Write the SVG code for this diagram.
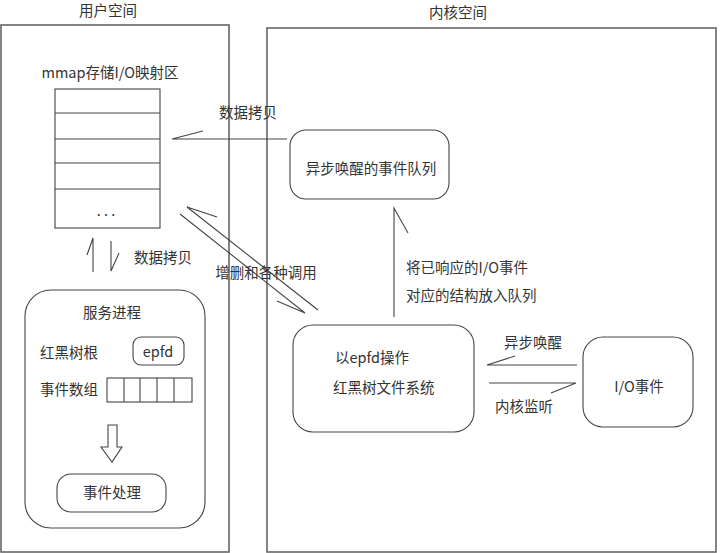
<svg xmlns="http://www.w3.org/2000/svg" width="720" height="553" viewBox="0 0 720 553">
<style>
text{font-family:"Microsoft YaHei","Noto Sans CJK SC","Noto Sans",sans-serif;font-size:14.5px;fill:#333}
.c{text-anchor:middle}
.outer{fill:none;stroke:#666;stroke-width:1.6}
.box{fill:#fff;stroke:#444;stroke-width:1.1}
.ln{fill:none;stroke:#444;stroke-width:1.1}
</style>
<rect width="720" height="553" fill="#fff"/>
<g id="user-space">
<rect class="outer" x="1" y="25" width="228" height="527"/>
<text class="c" x="108" y="16">用户空间</text>
</g>
<g id="kernel-space">
<rect class="outer" x="267" y="28" width="449" height="524"/>
<text class="c" x="458" y="18">内核空间</text>
</g>
<g id="mmap">
<text class="c" x="110" y="78">mmap存储I/O映射区</text>
<rect class="box" x="55" y="89" width="105" height="139"/>
<path class="ln" d="M55 113H160M55 139H160M55 163H160M55 189H160"/>
<text class="c" x="106" y="216">. . .</text>
</g>
<g id="queue">
<rect class="box" x="290" y="130" width="159" height="69" rx="16"/>
<text class="c" x="371" y="174">异步唤醒的事件队列</text>
</g>
<g id="epfd-fs">
<rect class="box" x="293" y="325" width="181" height="107" rx="20"/>
<text x="335" y="363">以epfd操作</text>
<text x="333" y="393">红黑树文件系统</text>
</g>
<g id="io-event">
<rect class="box" x="583" y="337" width="110" height="90" rx="20"/>
<text class="c" x="639" y="392">I/O事件</text>
</g>
<g id="service">
<rect class="box" x="25" y="290" width="180" height="238" rx="26"/>
<text class="c" x="112" y="318">服务进程</text>
<text x="40" y="358">红黑树根</text>
<rect class="box" x="133" y="337" width="51" height="28" rx="8"/>
<text class="c" x="158" y="357">epfd</text>
<text x="40" y="395">事件数组</text>
<rect class="box" x="107" y="378" width="85" height="24"/>
<path class="ln" d="M124 378V402M140 378V402M157 378V402M174 378V402"/>
<path class="ln" d="M108 425H117V447H122L112 462L101 447H108Z"/>
<rect class="box" x="57" y="474" width="109" height="38" rx="14"/>
<text class="c" x="112" y="498">事件处理</text>
</g>
<g id="connectors">
<path class="ln" d="M287 139H172L203 131"/>
<text class="c" x="248" y="118">数据拷贝</text>
<path class="ln" d="M318 310L187 207L217 217"/>
<path class="ln" d="M180 214L305 313L277 301"/>
<text class="c" x="266" y="278">增删和各种调用</text>
<path class="ln" d="M93 272V238L87 255"/>
<path class="ln" d="M111 241V271L119 253"/>
<text x="134" y="263">数据拷贝</text>
<path class="ln" d="M394 317V208L408 233"/>
<text x="406" y="273">将已响应的I/O事件</text>
<text x="406" y="301">对应的结构放入队列</text>
<path class="ln" d="M577 365H487L515 356"/>
<text class="c" x="533" y="348">异步唤醒</text>
<path class="ln" d="M489 383H576L551 393"/>
<text class="c" x="524" y="412">内核监听</text>
</g>
</svg>
